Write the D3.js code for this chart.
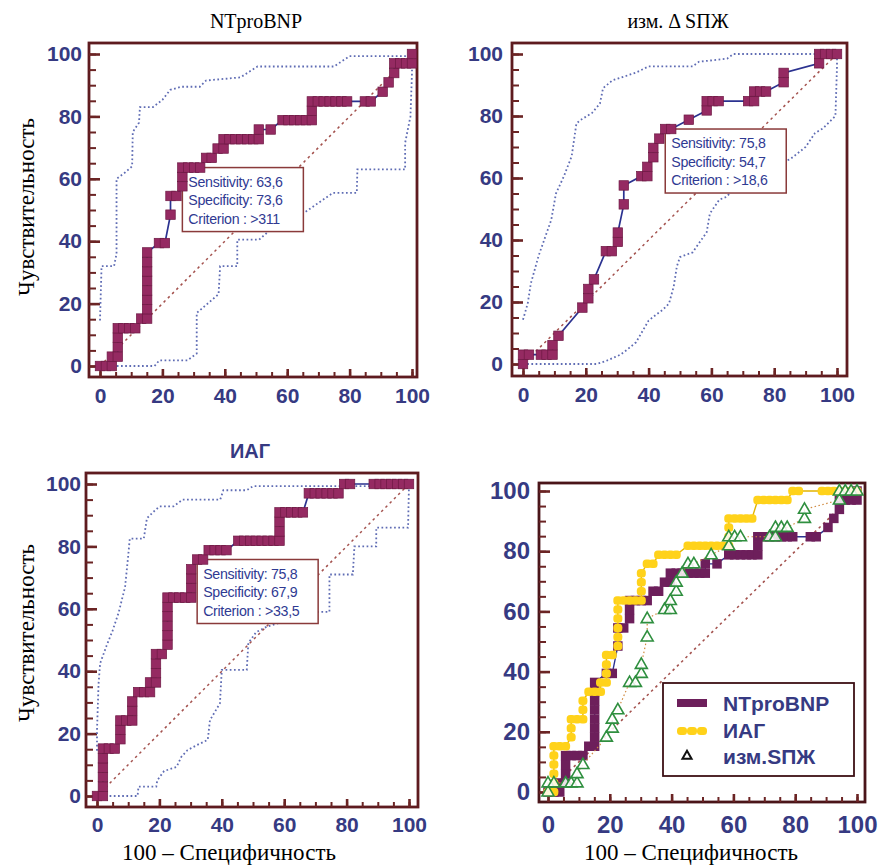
<!DOCTYPE html>
<html><head><meta charset="utf-8">
<script src="https://cdn.jsdelivr.net/npm/d3@7"></script>
<style>body{margin:0;background:#fff}svg{display:block}</style>
</head><body>
<svg id="c" width="880" height="867"></svg>
<script>
// ---------- data ----------
const majorTicks = [0, 20, 40, 60, 80, 100];
const minorTicks = [0,5,10,15,20,25,30,35,40,45,50,55,60,65,70,75,80,85,90,95,100];

const titles = ["NTproBNP", "изм. Δ SПЖ", "ИАГ"];
const yLabel = "Чувствительность";
const xLabel = "100 – Специфичность";
const legendNames = ["NTproBNP", "ИАГ", "изм.SПЖ"];

// ROC points (100 - specificity, sensitivity), %
const ntFpr = [0,1.9,3.8,3.8,5.7,5.7,5.7,5.7,7.5,9.4,11.3,13.2,15.1,15.1,15.1,15.1,15.1,15.1,15.1,15.1,18.9,20.8,22.6,22.6,24.5,26.4,26.4,26.4,28.3,30.2,32.1,34.0,35.8,37.7,39.6,39.6,41.5,43.4,45.3,47.2,49.1,50.9,50.9,54.7,58.5,60.4,62.3,64.2,66.0,67.9,67.9,67.9,69.8,71.7,73.6,75.5,77.4,79.2,84.9,86.8,90.6,92.5,94.3,94.3,96.2,98.1,100,100];
const ntSens = [0,0,0,3.0,3.0,6.1,9.1,12.1,12.1,12.1,12.1,15.2,15.2,18.2,21.2,24.2,27.3,30.3,33.3,36.4,39.4,39.4,48.5,54.5,54.5,57.6,60.6,63.6,63.6,63.6,63.6,66.7,66.7,69.7,69.7,72.7,72.7,72.7,72.7,72.7,72.7,72.7,75.8,75.8,78.8,78.8,78.8,78.8,78.8,78.8,81.8,84.8,84.8,84.8,84.8,84.8,84.8,84.8,84.8,84.8,87.9,90.9,93.9,97.0,97.0,97.0,97.0,100];

const dsFpr = [0,0,1.9,5.7,7.5,9.4,9.4,11.3,18.9,20.8,20.8,22.6,26.4,28.3,30.2,30.2,32.1,32.1,37.7,39.6,39.6,41.5,41.5,43.4,45.3,47.2,52.8,58.5,58.5,60.4,62.3,71.7,73.6,73.6,75.5,77.4,83.0,83.0,94.3,94.3,96.2,98.1,100];
const dsSens = [0,3.0,3.0,3.0,3.0,3.0,6.1,9.1,18.2,21.2,24.2,27.3,36.4,36.4,39.4,42.4,51.5,57.6,60.6,60.6,63.6,66.7,69.7,72.7,75.8,75.8,78.8,81.8,84.8,84.8,84.8,84.8,84.8,87.9,87.9,87.9,90.9,93.9,97.0,100,100,100,100];

const iagFpr = [0,1.9,1.9,1.9,1.9,1.9,1.9,3.8,5.7,7.5,7.5,7.5,9.4,11.3,11.3,11.3,13.2,15.1,17.0,17.0,18.9,18.9,18.9,18.9,20.8,22.6,22.6,22.6,22.6,22.6,22.6,24.5,26.4,28.3,30.2,30.2,30.2,30.2,32.1,34.0,35.8,37.7,39.6,41.5,45.3,47.2,49.1,50.9,52.8,54.7,56.6,58.5,58.5,58.5,58.5,60.4,62.3,64.2,66.0,67.9,69.8,71.7,73.6,75.5,77.4,79.2,81.1,88.7,90.6,92.5,94.3,96.2,98.1,100];
const iagSens = [0,0,3.0,6.1,9.1,12.1,15.2,15.2,15.2,18.2,21.2,24.2,24.2,24.2,27.3,30.3,33.3,33.3,33.3,36.4,36.4,39.4,42.4,45.5,45.5,48.5,51.5,54.5,57.6,60.6,63.6,63.6,63.6,63.6,63.6,66.7,69.7,72.7,75.8,75.8,78.8,78.8,78.8,78.8,81.8,81.8,81.8,81.8,81.8,81.8,81.8,81.8,84.8,87.9,90.9,90.9,90.9,90.9,90.9,97.0,97.0,97.0,97.0,97.0,97.0,100,100,100,100,100,100,100,100,100];

// 95% confidence bands [100-spec, sens]
const ntUpper = [[0,14.6],[0.5,32],[4.5,32],[5.3,36],[5.3,60],[8,62],[10.3,64],[10.5,75],[12.5,78],[12.8,83],[17,83],[20,85.3],[22.5,88.5],[26,89.5],[32,89.5],[34,91.5],[45,92.5],[50.5,96],[75,96],[80,99.3],[100,99.3]];
const ntLower = [[0,0],[17.5,0],[19,1.8],[28,1.8],[31,4],[31,17],[38,23],[38.5,32],[44,32],[44,40.5],[51,40.5],[55,44],[60,46.5],[66,49.5],[74.7,55.5],[82.3,55.5],[82.5,63],[97.8,63],[97.8,71.5],[99.5,80],[100,94],[100,100]];
const dsUpper = [[0,14.3],[1.5,19.5],[2.5,26],[5,35],[9,46.5],[10.5,55],[13,60.5],[15.5,67],[17,77.5],[18,78.5],[22,81],[24.5,84],[25.5,89],[28.5,91.5],[36,94],[40,96],[54,96],[56,97.5],[65,98.5],[67,100],[100,100]];
const dsLower = [[0,0],[23.5,0],[26.5,1],[31,3],[33,4.5],[36,7],[40,14],[42.5,16],[44.5,17.5],[46.5,19.5],[48,25],[49,31.5],[50,34.5],[54,36],[58.5,42.5],[59.5,48.5],[62.5,53],[65,54],[69,59.5],[79.5,64],[85,66],[90,70],[93,74.5],[95.5,76],[99.5,80],[100,96],[100,100]];
const iagUpper = [[0,14.5],[0,21],[0.5,36],[1,42.5],[3,48],[5,53],[7,59],[9,67],[10,77],[10.5,82.5],[15,82.5],[16,89],[18,91],[20,92.8],[24.5,92.8],[27.5,95],[39.5,95],[40.5,98],[48,98],[50,99.3],[100,99.3]];
const iagLower = [[0,0],[13,0],[13.3,3],[19,3],[19.3,5],[21.5,8],[25.5,9.3],[27,12.5],[29,14.7],[32,16.3],[35.5,18],[36.2,24.3],[39.4,29.7],[40,40.4],[48,40.4],[48.5,49],[51,52.5],[54.5,54.3],[60,56],[71,59],[74.5,59],[74.5,71],[82,71],[82.5,80],[89.5,80],[89.5,86],[99.7,86],[100,100]];

// optimal criterion boxes
const critFpr = [26.4, 45.3, 32.1];
const critSens = [63.6, 75.8, 75.8];
const boxSensitivity = ["63,6", "75,8", "75,8"];
const boxSpecificity = ["73,6", "54,7", "67,9"];
const boxCriterion = [">311", ">18,6", ">33,5"];

// ---------- layout ----------
const C = {
  frame: "#5e1b1f", frame4: "#4a1519", tick: "#6b2424", label: "#363a82",
  marker: "#952a62", markerEdge: "#6e1944", line: "#2b3290",
  band: "#5f6cb4", diag: "#a4524e", boxText: "#2f3a92",
  nt4: "#6d1f5b", yellow: "#ffd21a", green: "#2f8f3f"
};
const panels = [
  {frame:[89,43,417,377], x0:100, x100:412, y0:366, y100:54, lg:7, fs:21, bp:11.5},
  {frame:[512,43,847,376], x0:523, x100:837, y0:364, y100:54, lg:9, fs:21, bp:11.5},
  {frame:[86,473,418,807], x0:97, x100:409, y0:796, y100:484, lg:5, fs:21, bp:10.5},
  {frame:[539,483,865,802], x0:548, x100:857, y0:792, y100:491, lg:9, fs:24, bp:14}
];
const svg = d3.select("#c");
const zip = (a, b) => a.map((v, i) => [v, b[i]]);

function setup(p, frameColor) {
  const x = d3.scaleLinear().domain([0, 100]).range([p.x0, p.x100]);
  const y = d3.scaleLinear().domain([0, 100]).range([p.y0, p.y100]);
  const g = svg.append("g");
  const [fl, ft, fr, fb] = p.frame;
  g.append("rect").attr("x", fl).attr("y", ft).attr("width", fr - fl).attr("height", fb - ft)
    .attr("fill", "#fff").attr("stroke", frameColor).attr("stroke-width", 2.8);
  g.append("g").attr("transform", `translate(${fl},0)`)
    .call(d3.axisLeft(y).tickValues(minorTicks).tickSize(-7).tickFormat(""))
    .call(a => { a.select(".domain").remove(); a.selectAll("line").attr("stroke", C.tick).attr("stroke-width", 2); });
  g.append("g").attr("transform", `translate(0,${fb})`)
    .call(d3.axisBottom(x).tickValues(minorTicks).tickSize(-5).tickFormat(""))
    .call(a => { a.select(".domain").remove(); a.selectAll("line").attr("stroke", C.tick).attr("stroke-width", 2); });
  const fmt = d3.format("d");
  g.append("g").attr("transform", `translate(${fl},0)`)
    .call(d3.axisLeft(y).tickValues(majorTicks).tickSize(-11).tickPadding(p.lg).tickFormat(fmt))
    .call(a => {
      a.select(".domain").remove();
      a.selectAll("line").attr("stroke", C.tick).attr("stroke-width", 2.6);
      a.selectAll("text").attr("fill", C.label).attr("font-size", p.fs).attr("font-weight", "bold")
        .attr("font-family", "Liberation Sans, Arial, sans-serif");
    });
  g.append("g").attr("transform", `translate(0,${fb})`)
    .call(d3.axisBottom(x).tickValues(majorTicks).tickSize(-8).tickPadding(p.bp).tickFormat(fmt))
    .call(a => {
      a.select(".domain").remove();
      a.selectAll("line").attr("stroke", C.tick).attr("stroke-width", 2.6);
      a.selectAll("text").attr("fill", C.label).attr("font-size", p.fs).attr("font-weight", "bold")
        .attr("font-family", "Liberation Sans, Arial, sans-serif");
    });
  return {g, x, y};
}

function dotted(g, pts, x, y, color, dash, w) {
  g.append("path").datum(pts)
    .attr("d", d3.line().x(d => x(d[0])).y(d => y(d[1])))
    .attr("fill", "none").attr("stroke", color).attr("stroke-width", w)
    .attr("stroke-dasharray", dash);
}

const single = [
  {fpr: ntFpr, sens: ntSens, up: ntUpper, lo: ntLower},
  {fpr: dsFpr, sens: dsSens, up: dsUpper, lo: dsLower},
  {fpr: iagFpr, sens: iagSens, up: iagUpper, lo: iagLower}
];

single.forEach((s, i) => {
  const p = panels[i];
  const {g, x, y} = setup(p, C.frame);
  dotted(g, s.up, x, y, C.band, "1.7,2.5", 1.8);
  dotted(g, s.lo, x, y, C.band, "1.7,2.5", 1.8);
  dotted(g, [[0, 0], [100, 100]], x, y, C.diag, "2.5,3.5", 1.5);
  const bx = x(critFpr[i]), by = y(critSens[i]);
  const box = g.append("g").attr("transform", `translate(${bx},${by})`);
  box.append("rect").attr("width", 121).attr("height", 64).attr("fill", "#fff")
    .attr("stroke", "#8a3a3a").attr("stroke-width", 1.5);
  const lines = ["Sensitivity: " + boxSensitivity[i], "Specificity: " + boxSpecificity[i], "Criterion : " + boxCriterion[i]];
  box.selectAll("text").data(lines).join("text")
    .attr("x", 6).attr("y", (d, k) => 19 + k * 18.5)
    .attr("fill", C.boxText).attr("font-size", 14.2).attr("letter-spacing", -0.3)
    .attr("font-family", "Liberation Sans, Arial, sans-serif").text(d => d);
  const pts = zip(s.fpr, s.sens);
  g.append("path").datum(pts).attr("d", d3.line().x(d => x(d[0])).y(d => y(d[1])))
    .attr("fill", "none").attr("stroke", C.line).attr("stroke-width", 1.7);
  g.selectAll("rect.m").data(pts).join("rect").attr("class", "m")
    .attr("x", d => x(d[0]) - 4.75).attr("y", d => y(d[1]) - 4.75)
    .attr("width", 9.5).attr("height", 9.5)
    .attr("fill", C.marker).attr("stroke", C.markerEdge).attr("stroke-width", 0.7);
});

// combined panel
{
  const p = panels[3];
  const {g, x, y} = setup(p, C.frame4);
  dotted(g, [[0, 0], [100, 100]], x, y, C.diag, "2.5,3.5", 1.6);
  const line = d3.line().x(d => x(d[0])).y(d => y(d[1]));
  const nt = zip(ntFpr, ntSens), iag = zip(iagFpr, iagSens), ds = zip(dsFpr, dsSens);
  g.append("path").datum(nt).attr("d", line).attr("fill", "none").attr("stroke", C.line).attr("stroke-width", 1.4);
  g.selectAll("rect.n").data(nt).join("rect").attr("class", "n")
    .attr("x", d => x(d[0]) - 4.75).attr("y", d => y(d[1]) - 4.75).attr("width", 9.5).attr("height", 9.5)
    .attr("fill", C.nt4);
  g.append("path").datum(iag).attr("d", line).attr("fill", "none").attr("stroke", "#e2b400").attr("stroke-width", 1.4);
  g.selectAll("rect.y").data(iag).join("rect").attr("class", "y")
    .attr("x", d => x(d[0]) - 4.5).attr("y", d => y(d[1]) - 4.25).attr("width", 9).attr("height", 8.5).attr("rx", 3.5)
    .attr("fill", C.yellow);
  g.append("path").datum(ds).attr("d", line).attr("fill", "none").attr("stroke", "#d08a40")
    .attr("stroke-width", 1.2).attr("stroke-dasharray", "1.5,2.5");
  const tri = d3.symbol(d3.symbolTriangle, 62);
  g.selectAll("path.t").data(ds).join("path").attr("class", "t")
    .attr("transform", d => `translate(${x(d[0])},${y(d[1]) + 0.5})`).attr("d", tri)
    .attr("fill", "#fff").attr("fill-opacity", 0.85).attr("stroke", C.green).attr("stroke-width", 1.6);

  // legend
  const lg = g.append("g").attr("transform", "translate(663,683)");
  lg.append("rect").attr("width", 191).attr("height", 93).attr("fill", "#fff")
    .attr("stroke", "#3d1015").attr("stroke-width", 1.8);
  [0, 1, 2].forEach(k => {
    lg.append("rect").attr("x", 14 + k * 10).attr("y", 16).attr("width", 10).attr("height", 8)
      .attr("fill", C.nt4);
    lg.append("rect").attr("x", 14 + k * 10).attr("y", 44).attr("width", 10).attr("height", 8).attr("rx", 3.5)
      .attr("fill", C.yellow);
  });
  lg.append("path").attr("transform", "translate(24,73)").attr("d", d3.symbol(d3.symbolTriangle, 36))
    .attr("fill", "#fff").attr("stroke", "#111").attr("stroke-width", 2);
  lg.selectAll("text").data(legendNames).join("text")
    .attr("x", 60).attr("y", (d, k) => 28 + k * 26.5)
    .attr("fill", C.label).attr("font-size", 21).attr("font-weight", "bold")
    .attr("font-family", "Liberation Sans, Arial, sans-serif").text(d => d);
}

// titles & axis titles
const serif = "Liberation Serif, Times New Roman, serif";
svg.append("text").attr("x", 256).attr("y", 28).attr("text-anchor", "middle")
  .attr("font-family", serif).attr("font-size", 20).text(titles[0]);
svg.append("text").attr("x", 678).attr("y", 28).attr("text-anchor", "middle")
  .attr("font-family", serif).attr("font-size", 20).text(titles[1]);
svg.append("text").attr("x", 250).attr("y", 458).attr("text-anchor", "middle")
  .attr("font-family", "Liberation Sans, Arial, sans-serif").attr("font-weight", "bold")
  .attr("fill", C.label).attr("font-size", 20).text(titles[2]);
[207, 633].forEach(cy => {
  svg.append("text").attr("transform", `translate(34,${cy}) rotate(-90)`).attr("text-anchor", "middle")
    .attr("font-family", serif).attr("font-size", 23).text(yLabel);
});
[229, 691].forEach(cx => {
  svg.append("text").attr("x", cx).attr("y", 860).attr("text-anchor", "middle")
    .attr("font-family", serif).attr("font-size", 23).text(xLabel);
});
</script>
</body></html>
